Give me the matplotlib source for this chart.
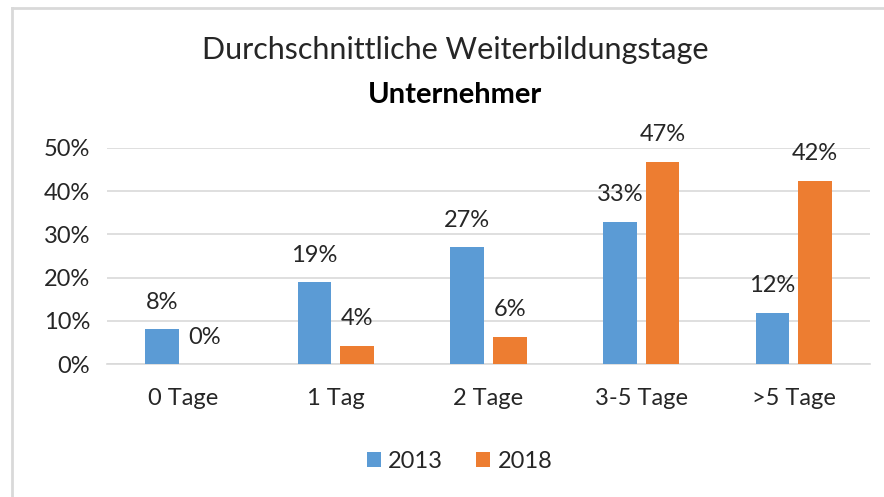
import matplotlib
matplotlib.use("Agg")
import matplotlib.pyplot as plt
from matplotlib.lines import Line2D
import numpy as np

categories = ["0 Tage", "1 Tag", "2 Tage", "3-5 Tage", ">5 Tage"]
series_names = ["2013", "2018"]
values_2013 = [8.1, 18.9, 27.0, 32.9, 11.9]
values_2018 = [0.0, 4.2, 6.4, 46.8, 42.3]
yticks = [0, 10, 20, 30, 40, 50]
colors = ["#5B9BD5", "#ED7D31"]

plt.rcParams['font.family'] = ['Lato', 'DejaVu Sans']

fig = plt.figure(figsize=(8.84, 4.97), dpi=100)
fig.patch.set_facecolor("white")
W, H = 884, 497
ax = fig.add_axes([107 / W, 1 - 364.3 / H, (870 - 107) / W, (364.3 - 147.7) / H])

x = np.arange(len(categories))
bw = 0.22
off = 0.14
for vals, name, col, o in [(values_2013, series_names[0], colors[0], -off),
                            (values_2018, series_names[1], colors[1], off)]:
    ax.bar(x + o, vals, width=bw, color=col, label=name, zorder=3)
    for xi, v in zip(x + o, vals):
        ax.annotate(f"{v:.0f}%", (xi, v), xytext=(0, 12), textcoords="offset points",
                    ha="center", va="bottom", fontsize=17, color="#262626")

ax.set_xlim(-0.5, len(categories) - 0.5)
ax.set_ylim(0, 50)
ax.set_yticks(yticks)
ax.set_yticklabels([f"{t}%" for t in yticks], fontsize=17, color="#262626")
ax.set_xticks(x)
ax.set_xticklabels(categories, fontsize=17, color="#262626")
ax.tick_params(axis="both", length=0)
ax.tick_params(axis="x", pad=17)
ax.tick_params(axis="y", pad=12)
ax.grid(axis="y", color="#d9d9d9", linewidth=1.2, zorder=0)
for s in ["top", "right", "left"]:
    ax.spines[s].set_visible(False)
ax.spines["bottom"].set_color("#d9d9d9")
ax.spines["bottom"].set_linewidth(1.2)

fig.text(0.515, 1 - 50 / H, "Durchschnittliche Weiterbildungstage", ha="center", va="center",
         fontsize=22, color="#262626")
fig.text(0.515, 1 - 95 / H, "Unternehmer", ha="center", va="center",
         fontsize=21, fontweight="bold", color="#000000")

leg = fig.legend(loc="center", bbox_to_anchor=(0.52, 1 - 461 / H), ncol=2, frameon=False,
                 fontsize=17, handlelength=0.6, handleheight=0.6, handletextpad=0.3,
                 columnspacing=1.4)
for t in leg.get_texts():
    t.set_color("#262626")

fig.lines.append(Line2D([12 / W, 1.0], [1 - 8 / H, 1 - 8 / H], transform=fig.transFigure,
                        color="#d9d9d9", linewidth=2))
fig.lines.append(Line2D([12 / W, 12 / W], [0, 1 - 8 / H], transform=fig.transFigure,
                        color="#d9d9d9", linewidth=2))

fig.savefig("out.png", dpi=100)
